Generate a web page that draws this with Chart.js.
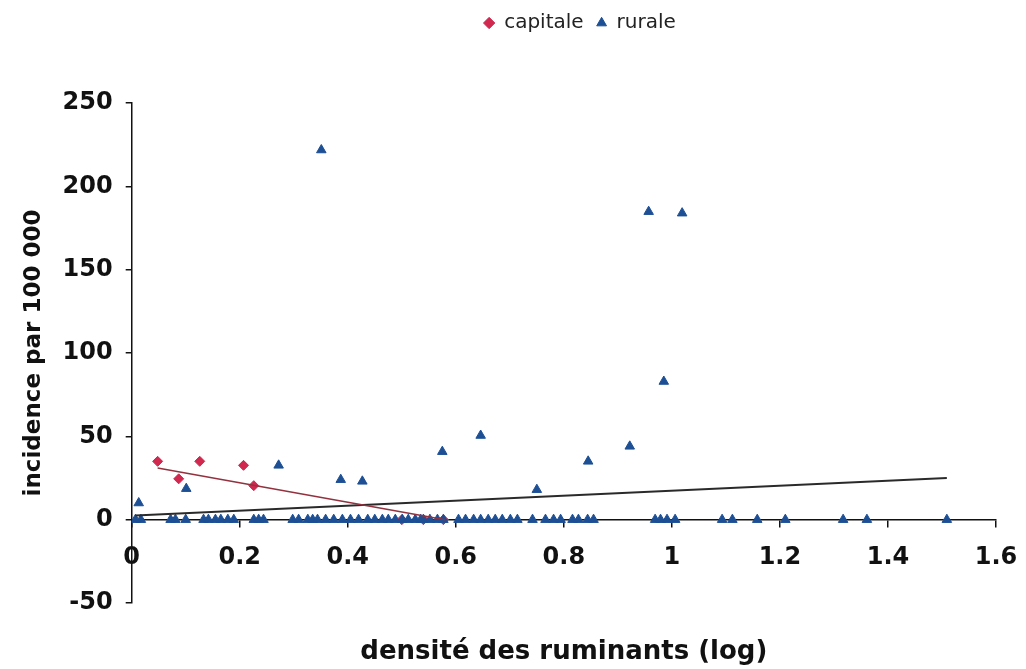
<!DOCTYPE html>
<html>
<head>
<meta charset="utf-8">
<script src="https://cdn.jsdelivr.net/npm/chart.js@4.4.1/dist/chart.umd.min.js"></script>
<style>
  html, body { margin: 0; padding: 0; background: #fff; }
  #chart { display: block; }
</style>
</head>
<body>
<canvas id="chart" width="1026" height="669"></canvas>
<script>
// capitale (red diamonds)
const capitaleX = [0.048, 0.087, 0.126, 0.207, 0.226, 0.50, 0.54, 0.577];
const capitaleY = [35, 24.5, 35, 32.6, 20.4, 0, 0, 0];

// rurale (blue triangles)
const ruraleX = [
  0.007, 0.013, 0.017, 0.072, 0.081, 0.100, 0.101, 0.133, 0.142, 0.155, 0.165, 0.178, 0.189,
  0.226, 0.235, 0.244, 0.272, 0.298, 0.309, 0.326, 0.335, 0.344, 0.351, 0.359, 0.374,
  0.387, 0.390, 0.405, 0.420, 0.427, 0.437, 0.450, 0.464, 0.475, 0.488, 0.501, 0.512,
  0.525, 0.535, 0.540, 0.552, 0.566, 0.575, 0.577, 0.605, 0.618, 0.633, 0.646, 0.646,
  0.660, 0.673, 0.686, 0.701, 0.714, 0.742, 0.750, 0.766, 0.781, 0.794, 0.816, 0.827,
  0.844, 0.845, 0.855, 0.922, 0.957, 0.969, 0.979, 0.985, 0.991, 1.006, 1.019, 1.093,
  1.112, 1.158, 1.210, 1.317, 1.361, 1.509
];
const ruraleY = [
  0, 10, 0, 0, 0, 0, 18.6, 0, 0, 0, 0, 0, 0,
  0, 0, 0, 32.6, 0, 0, 0, 0, 0, 221.8, 0, 0,
  24, 0, 0, 0, 23, 0, 0, 0, 0, 0, 0, 0,
  0, 0, 0, 0, 0, 40.8, 0, 0, 0, 0, 0, 50.5,
  0, 0, 0, 0, 0, 0, 18, 0, 0, 0, 0, 0,
  0, 35, 0, 44, 184.8, 0, 0, 82.9, 0, 0, 183.9, 0,
  0, 0, 0, 0, 0, 0
];

// trend lines, end points
const trendCapitaleX = [0.048, 0.58];
const trendCapitaleY = [31, 0];
const trendRuraleX = [0.007, 1.509];
const trendRuraleY = [2.5, 25];

// axes
const xTickValues = [0, 0.2, 0.4, 0.6, 0.8, 1, 1.2, 1.4, 1.6];
const xTickLabels = ["0", "0.2", "0.4", "0.6", "0.8", "1", "1.2", "1.4", "1.6"];
const yTickValues = [-50, 0, 50, 100, 150, 200, 250];
const yTickLabels = ["-50", "0", "50", "100", "150", "200", "250"];

const toPoints = (xs, ys) => xs.map((x, i) => ({ x: x, y: ys[i] }));

const family = "'DejaVu Sans', sans-serif";

// legend sits high above the plot and right of centre
const legendPlacement = {
  id: "legendPlacement",
  beforeInit(chart) {
    const legend = chart.legend;
    const fit = legend.fit;
    legend.fit = function () {
      fit.call(this);
      this.height = 103;
    };
  },
  afterLayout(chart) {
    chart.legend.left += 82;
    chart.legend.right += 82;
  }
};

new Chart(document.getElementById("chart"), {
  type: "scatter",
  data: {
    datasets: [
      {
        label: "trend capitale",
        data: toPoints(trendCapitaleX, trendCapitaleY),
        showLine: true,
        borderColor: "#93323f",
        borderWidth: 1.5,
        pointRadius: 0,
        fill: false,
        order: 0
      },
      {
        label: "trend rurale",
        data: toPoints(trendRuraleX, trendRuraleY),
        showLine: true,
        borderColor: "#2a2a2a",
        borderWidth: 1.8,
        pointRadius: 0,
        fill: false,
        order: 1
      },
      {
        label: "capitale",
        data: toPoints(capitaleX, capitaleY),
        pointStyle: "rectRot",
        pointRadius: 5,
        backgroundColor: "#d0284f",
        borderColor: "#d0284f",
        borderWidth: 1,
        order: 3
      },
      {
        label: "rurale",
        data: toPoints(ruraleX, ruraleY),
        pointStyle: "triangle",
        pointRadius: 5.5,
        backgroundColor: "#1d4f95",
        borderColor: "#1d4f95",
        borderWidth: 1,
        order: 2
      }
    ]
  },
  options: {
    responsive: false,
    animation: false,
    layout: { padding: { left: 0, right: 30, top: 0, bottom: 66 } },
    plugins: {
      tooltip: { enabled: false },
      legend: {
        position: "top",
        labels: {
          filter: (item) => !item.text.startsWith("trend"),
          sort: (a, b) => a.datasetIndex - b.datasetIndex,
          usePointStyle: true,
          boxWidth: 10,
          boxHeight: 8,
          padding: 13,
          color: "#222",
          font: { family: family, size: 20 }
        }
      }
    },
    scales: {
      x: {
        type: "linear",
        position: { y: 0 },
        min: 0,
        max: 1.6,
        z: 1,
        border: { display: true, color: "#111", width: 1.5 },
        grid: { drawOnChartArea: false, drawTicks: true, tickLength: 7, color: "#111", lineWidth: 1.5 },
        afterBuildTicks: (axis) => {
          axis.ticks = xTickValues.map((v) => ({ value: v }));
        },
        ticks: {
          autoSkip: false,
          maxRotation: 0,
          padding: 0,
          color: "#111",
          font: { family: family, size: 24, weight: "bold", lineHeight: 2.55 },
          callback: (value, index) => xTickLabels[index]
        },
        title: {
          display: true,
          text: "densité des ruminants (log)",
          color: "#111",
          font: { family: family, size: 26, weight: "bold" },
          padding: { top: 49, bottom: 0 }
        }
      },
      y: {
        type: "linear",
        position: "left",
        min: -50,
        max: 250,
        border: { display: true, color: "#111", width: 1.5 },
        grid: { drawOnChartArea: false, drawTicks: true, tickLength: 6, color: "#111", lineWidth: 1.5 },
        afterBuildTicks: (axis) => {
          axis.ticks = yTickValues.map((v) => ({ value: v }));
        },
        ticks: {
          padding: 13,
          color: "#111",
          font: { family: family, size: 24, weight: "bold" },
          callback: (value, index) => yTickLabels[index]
        },
        title: {
          display: true,
          text: "incidence par 100 000",
          color: "#111",
          font: { family: family, size: 23, weight: "bold" },
          padding: { top: 20, bottom: 2 }
        }
      }
    }
  },
  plugins: [legendPlacement]
});
</script>
</body>
</html>
